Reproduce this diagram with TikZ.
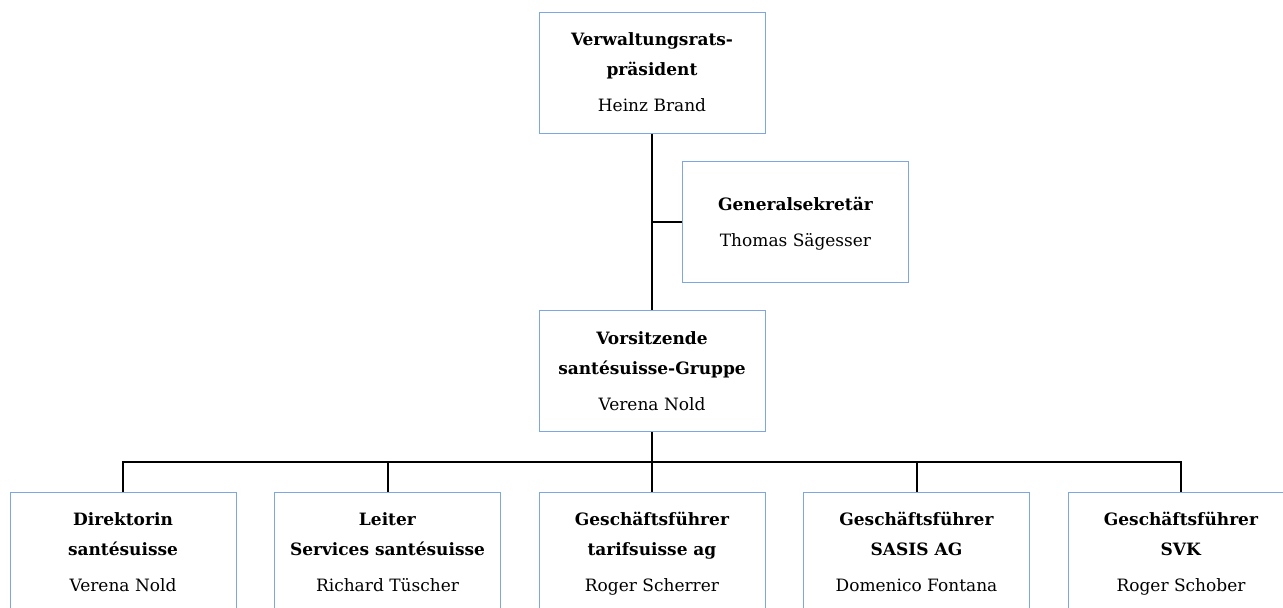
\documentclass[tikz,border=0pt]{standalone}
\usepackage{fontspec}
\setmainfont{DejaVu Serif}
\definecolor{boxblue}{HTML}{7EA6E0}
\newcommand{\bxs}{\rule[-9pt]{0pt}{30pt}}
\begin{document}
\begin{tikzpicture}[x=1pt,y=-1pt,
  box/.style={draw=boxblue, line width=1pt, minimum width=226pt, minimum height=121pt,
    align=center, inner sep=0pt, font=\fontsize{17}{30}\selectfont},
  conn/.style={line width=2pt, black}]
\useasboundingbox (0,0) rectangle (1283,608);
\clip (0,0) rectangle (1283,608);
\node[box] (vr) at (652,72.5) {\bxs\textbf{Verwaltungsrats-}\\\textbf{präsident}\\[6pt]Heinz Brand\bxs};
\node[box] (gs) at (795.5,222) {\bxs\textbf{Generalsekretär}\\[6pt]Thomas Sägesser\bxs};
\node[box] (vs) at (652,371) {\bxs\textbf{Vorsitzende}\\\textbf{santésuisse-Gruppe}\\[6pt]Verena Nold\bxs};
\node[box] (b1) at (123,552.5) {\bxs\textbf{Direktorin}\\\textbf{santésuisse}\\[6pt]Verena Nold\bxs};
\node[box] (b2) at (387.5,552.5) {\bxs\textbf{Leiter}\\\textbf{Services santésuisse}\\[6pt]Richard Tüscher\bxs};
\node[box] (b3) at (652,552.5) {\bxs\textbf{Geschäftsführer}\\\textbf{tarifsuisse ag}\\[6pt]Roger Scherrer\bxs};
\node[box] (b4) at (916.5,552.5) {\bxs\textbf{Geschäftsführer}\\\textbf{SASIS AG}\\[6pt]Domenico Fontana\bxs};
\node[box] (b5) at (1181,552.5) {\bxs\textbf{Geschäftsführer}\\\textbf{SVK}\\[6pt]Roger Schober\bxs};
\coordinate (bar) at (652,462);
\draw[conn] (vr.south) -- (vs.north);
\draw[conn] (gs.west) -- (gs.west -| vr.south);
\draw[conn] (vs.south) -- (bar);
\draw[conn] (b1.north) |- (bar) -| (b5.north);
\draw[conn] (b2.north) -- (b2.north |- bar);
\draw[conn] (b3.north) -- (bar);
\draw[conn] (b4.north) -- (b4.north |- bar);
\end{tikzpicture}
\end{document}
